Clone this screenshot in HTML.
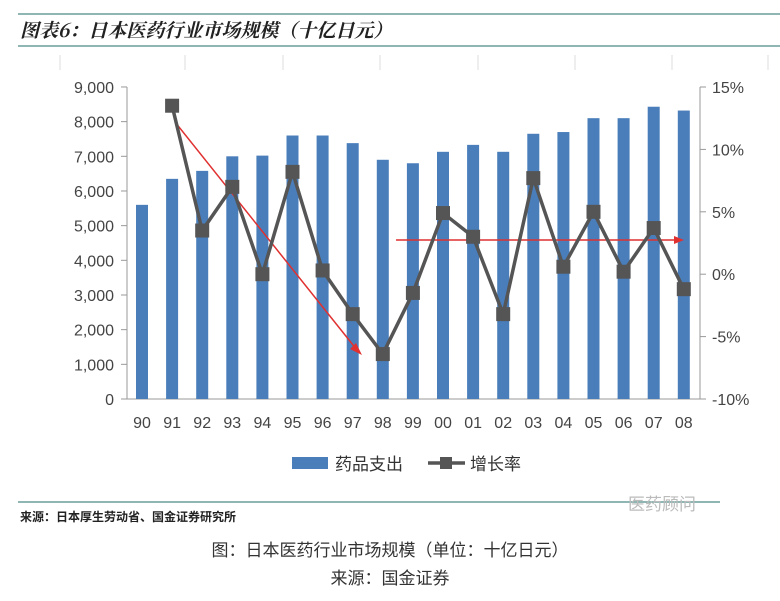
<!DOCTYPE html>
<html><head><meta charset="utf-8"><style>
html,body{margin:0;padding:0;background:#fff;}
body{width:780px;height:596px;overflow:hidden;font-family:"Liberation Sans","Noto Sans CJK SC",sans-serif;}
</style></head><body>
<svg width="780" height="596" viewBox="0 0 780 596" xmlns="http://www.w3.org/2000/svg" font-family="Liberation Sans, Noto Sans CJK SC, sans-serif">
<line x1="18" y1="14" x2="780" y2="14" stroke="#6a9e9a" stroke-width="1.5"/>
<line x1="18" y1="46" x2="780" y2="46" stroke="#6a9e9a" stroke-width="1.5"/>
<text x="20" y="37" font-size="19" font-weight="bold" font-style="italic" fill="#222" font-family="Noto Serif CJK SC, Noto Sans CJK SC, serif">图表6：日本医药行业市场规模（十亿日元）</text>
<g stroke="#ddd" stroke-width="1">
<line x1="60" y1="55" x2="60" y2="70"/><line x1="185" y1="55" x2="185" y2="70"/><line x1="283" y1="55" x2="283" y2="70"/><line x1="380" y1="55" x2="380" y2="70"/><line x1="478" y1="55" x2="478" y2="70"/><line x1="575" y1="55" x2="575" y2="70"/><line x1="672" y1="55" x2="672" y2="70"/><line x1="768" y1="55" x2="768" y2="70"/>
</g>
<g stroke="#999" stroke-width="1">
<line x1="127" y1="87" x2="127" y2="399"/>
<line x1="700" y1="87" x2="700" y2="399"/>
<line x1="127" y1="399" x2="700" y2="399"/>
</g>
<g font-size="16" fill="#444" text-anchor="end" id="l"></g>
<g font-size="16" fill="#444" id="r"></g>
<g id="bars" fill="#4a7ebb"></g>
<g font-size="16" fill="#444" text-anchor="middle" id="xl"></g>
<line x1="175" y1="122" x2="357" y2="350" stroke="#e03030" stroke-width="1.5"/>
<polygon points="362,355 350,349 356,343" fill="#e03030"/>
<line x1="396" y1="240" x2="676" y2="240" stroke="#e03030" stroke-width="1.5"/>
<polygon points="684,240 674,236 674,244" fill="#e03030"/>
<polyline id="ln" fill="none" stroke="#555" stroke-width="3.5"/>
<g id="mk" fill="#555"></g>
<rect x="292" y="457" width="36" height="12" fill="#4a7ebb"/>
<text x="335" y="470" font-size="17" fill="#333">药品支出</text>
<line x1="428" y1="463" x2="465" y2="463" stroke="#555" stroke-width="3.5"/>
<rect x="440" y="457" width="12" height="12" fill="#555"/>
<text x="470" y="470" font-size="17" fill="#333">增长率</text>
<line x1="18" y1="502" x2="720" y2="502" stroke="#6a9e9a" stroke-width="1.5"/>
<text x="628" y="510" font-size="17" fill="#bbb">医药顾问</text>
<text x="20" y="521" font-size="12" font-weight="bold" fill="#222">来源：日本厚生劳动省、国金证券研究所</text>
<text x="390" y="556" font-size="17" fill="#333" text-anchor="middle">图：日本医药行业市场规模（单位：十亿日元）</text>
<text x="390" y="584" font-size="17" fill="#333" text-anchor="middle">来源：国金证券</text>
</svg>
<script>
var ns="http://www.w3.org/2000/svg";
function el(p,t,a,txt){var e=document.createElementNS(ns,t);for(var k in a)e.setAttribute(k,a[k]);if(txt!=null)e.textContent=txt;document.getElementById(p).appendChild(e);}
var lab=["0","1,000","2,000","3,000","4,000","5,000","6,000","7,000","8,000","9,000"];
for(var i=0;i<10;i++){var y=399-i*34.67;el("l","text",{x:114,y:y+6},lab[i]);el("l","line",{x1:121,y1:y,x2:127,y2:y,stroke:"#999"});}
var rl=["-10%","-5%","0%","5%","10%","15%"];
for(var i=0;i<6;i++){var y=399-i*62.4;el("r","text",{x:712,y:y+6},rl[i]);el("r","line",{x1:700,y1:y,x2:706,y2:y,stroke:"#999"});}
var v=[5600,6350,6580,7000,7020,7600,7600,7380,6900,6800,7130,7330,7130,7650,7700,8100,8100,8430,8320];
var xs=["90","91","92","93","94","95","96","97","98","99","00","01","02","03","04","05","06","07","08"];
for(var i=0;i<19;i++){var cx=142+30.1*i,h=v[i]*0.03467;el("bars","rect",{x:cx-6,y:399-h,width:12,height:h});el("xl","text",{x:cx,y:428},xs[i]);}
var g=[13.5,3.5,7,0,8.2,0.3,-3.2,-6.4,-1.5,4.9,3,-3.2,7.7,0.6,5,0.2,3.7,-1.2];
var pts=[];
for(var i=0;i<18;i++){var cx=142+30.1*(i+1),y=274.2-g[i]*12.48;pts.push(cx+","+y);el("mk","rect",{x:cx-7,y:y-7,width:14,height:14});}
document.getElementById("ln").setAttribute("points",pts.join(" "));
</script>
</body></html>
